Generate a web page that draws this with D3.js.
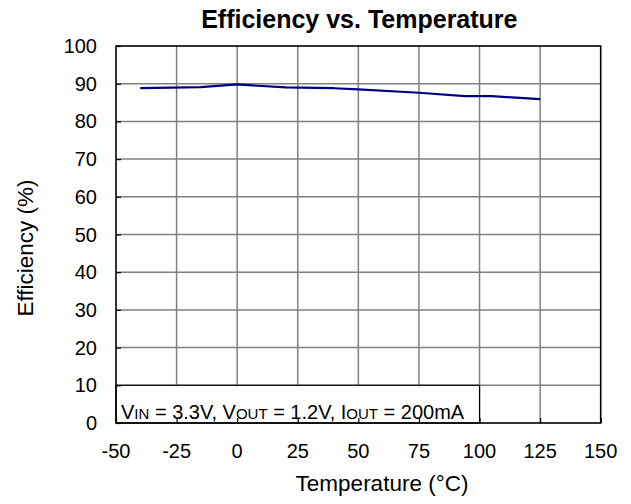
<!DOCTYPE html>
<html><head><meta charset="utf-8">
<script src="https://cdn.jsdelivr.net/npm/d3@7"></script>
<style>
body{margin:0;background:#fff}
text{font-family:"Liberation Sans",Arial,Helvetica,sans-serif;fill:#000}
</style>
</head><body>
<svg id="c" width="631" height="504"></svg>
<script>
const temperature = [-40, -15, 0, 20, 40, 50, 75, 94, 105, 125];
const efficiency  = [88.8, 89.1, 89.8, 89.0, 88.8, 88.5, 87.6, 86.7, 86.7, 85.9];
const xTicks = [-50, -25, 0, 25, 50, 75, 100, 125, 150];
const yTicks = [0, 10, 20, 30, 40, 50, 60, 70, 80, 90, 100];
const title = "Efficiency vs. Temperature";
const xLabel = "Temperature (\u00B0C)";
const yLabel = "Efficiency (%)";

const svg = d3.select("#c");
const L = 116, R = 600.7, T = 46, B = 423;
const x = d3.scaleLinear().domain([-50, 150]).range([L, R]);
const y = d3.scaleLinear().domain([0, 100]).range([B, T]);

// gridlines
const g = svg.append("g");
g.selectAll(".vx").data(xTicks.slice(1, -1)).join("line")
  .attr("x1", d => x(d)).attr("x2", d => x(d)).attr("y1", T).attr("y2", B)
  .attr("stroke", "#808080").attr("stroke-width", 1.5);
g.selectAll(".hy").data(yTicks.slice(1, -1)).join("line")
  .attr("x1", L).attr("x2", R).attr("y1", d => y(d)).attr("y2", d => y(d))
  .attr("stroke", "#808080").attr("stroke-width", 1.5);

// data line
const line = d3.line().x((d, i) => x(temperature[i])).y(d => y(d));
svg.append("path").datum(efficiency).attr("d", line)
  .attr("fill", "none").attr("stroke", "#000080").attr("stroke-width", 2.2)
  .attr("stroke-linejoin", "round");

// annotation box
svg.append("rect").attr("x", L).attr("y", y(10)).attr("width", x(100) - L).attr("height", B - y(10))
  .attr("fill", "#fff").attr("stroke", "#000").attr("stroke-width", 1.2);
const ann = svg.append("text").attr("x", L + 5).attr("y", 419).attr("font-size", 20);
const parts = [["V",20],["IN",15],[" = 3.3V, V",20],["OUT",15],[" = 1.2V, I",20],["OUT",15],[" = 200mA",20]];
parts.forEach(p => ann.append("tspan").attr("font-size", p[1]).text(p[0]));

// axes with inward ticks
const xAxis = svg.append("g").attr("transform", `translate(0,${B})`)
  .call(d3.axisBottom(x).tickValues(xTicks).tickSizeInner(-5).tickSizeOuter(0).tickFormat(""));
xAxis.select(".domain").remove();
xAxis.selectAll("line").attr("stroke", "#000").attr("stroke-width", 1.2);
const yAxis = svg.append("g").attr("transform", `translate(${L},0)`)
  .call(d3.axisLeft(y).tickValues(yTicks).tickSizeInner(-5).tickSizeOuter(0).tickFormat(""));
yAxis.select(".domain").remove();
yAxis.selectAll("line").attr("stroke", "#000").attr("stroke-width", 1.2);

// frame
svg.append("rect").attr("x", L).attr("y", T).attr("width", R - L).attr("height", B - T)
  .attr("fill", "none").attr("stroke", "#000").attr("stroke-width", 1.6);

// tick labels
svg.selectAll(".xl").data(xTicks).join("text")
  .attr("text-anchor", "middle").attr("font-size", 20)
  .attr("x", d => x(d)).attr("y", 458)
  .text(d => d);
svg.selectAll(".yl").data(yTicks).join("text")
  .attr("text-anchor", "end").attr("font-size", 20)
  .attr("x", 97).attr("y", d => y(d) + 7)
  .text(d => d);

// titles
svg.append("text").attr("text-anchor", "middle").attr("font-size", 25).attr("font-weight", "bold")
  .attr("x", (L + R) / 2 + 1).attr("y", 28).text(title);
svg.append("text").attr("text-anchor", "middle").attr("font-size", 22.5)
  .attr("x", 382).attr("y", 491).text(xLabel);
svg.append("text").attr("text-anchor", "middle").attr("font-size", 22.5)
  .attr("transform", `translate(33,248) rotate(-90)`).text(yLabel);
</script>
</body></html>
